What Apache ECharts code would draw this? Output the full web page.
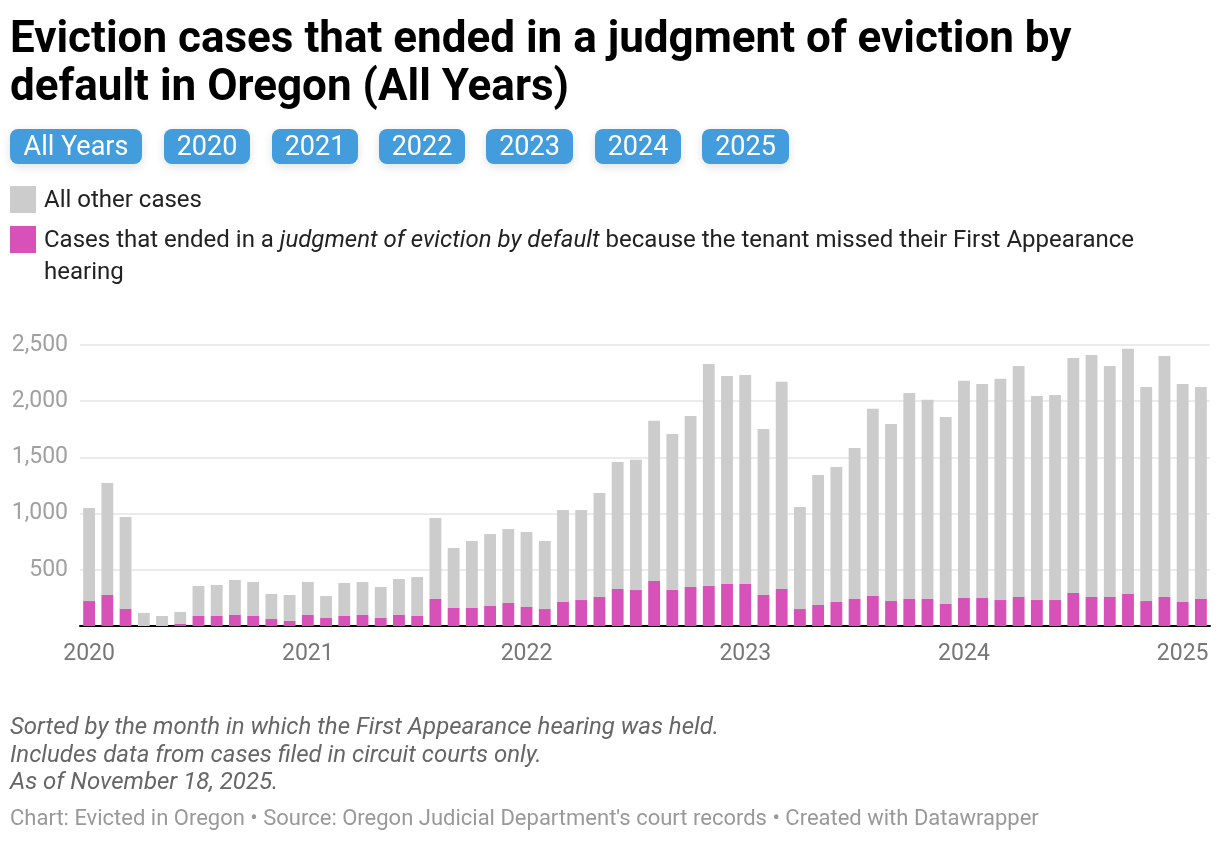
<!DOCTYPE html>
<html>
<head>
<meta charset="utf-8">
<script src="https://cdn.jsdelivr.net/npm/echarts@6/dist/echarts.min.js"></script>
<style>
html,body{margin:0;padding:0;background:#fff;}
#chart{width:1220px;height:844px;}
</style>
</head>
<body>
<div id="chart"></div>
<script>
// Months Jan 2020 – Feb 2025
const months = [
 '2020-01','2020-02','2020-03','2020-04','2020-05','2020-06','2020-07','2020-08','2020-09','2020-10','2020-11','2020-12',
 '2021-01','2021-02','2021-03','2021-04','2021-05','2021-06','2021-07','2021-08','2021-09','2021-10','2021-11','2021-12',
 '2022-01','2022-02','2022-03','2022-04','2022-05','2022-06','2022-07','2022-08','2022-09','2022-10','2022-11','2022-12',
 '2023-01','2023-02','2023-03','2023-04','2023-05','2023-06','2023-07','2023-08','2023-09','2023-10','2023-11','2023-12',
 '2024-01','2024-02','2024-03','2024-04','2024-05','2024-06','2024-07','2024-08','2024-09','2024-10','2024-11','2024-12',
 '2025-01','2025-02'
];
// Cases ending in judgment of eviction by default (missed First Appearance)
const defaultCases = [
 222,276,151,0,0,18,89,89,98,89,62,45,
 98,71,89,98,71,98,89,240,160,160,178,205,
 169,151,214,231,258,329,320,401,320,347,356,374,
 374,276,329,151,187,214,240,267,222,240,240,196,
 249,249,231,258,231,231,294,258,258,285,222,258,
 214,240
];
// All other cases
const otherCases = [
 828,997,819,116,89,107,267,276,311,303,223,231,
 294,196,294,294,276,320,347,721,534,597,641,658,
 668,606,819,802,926,1131,1158,1424,1389,1522,1976,1851,
 1860,1477,1843,908,1157,1201,1344,1665,1576,1834,1772,1664,
 1932,1905,1968,2056,1816,1825,2091,2154,2056,2181,1905,2145,
 1940,1887
];
const yTicks = [0,500,1000,1500,2000,2500];
const buttonLabels = ['All Years','2020','2021','2022','2023','2024','2025'];

const chart = echarts.init(document.getElementById('chart'));

const btnX = [10,164,272,379,486,595,702];
const btnW = [132,86,86,86,87,86,87];
const graphics = [];
buttonLabels.forEach((t,i)=>{
  graphics.push({
    type:'rect', left:btnX[i], top:129,
    shape:{width:btnW[i],height:35,r:8},
    style:{fill:'#439cdc',shadowBlur:10,shadowColor:'rgba(0,0,0,0.12)',shadowOffsetY:3}
  });
  graphics.push({
    type:'text', x:btnX[i]+btnW[i]/2, y:148,
    style:{text:t,fill:'#fff',font:'27px Roboto',align:'center',verticalAlign:'middle'}
  });
});
// legend
graphics.push({type:'rect',left:10,top:186,shape:{width:26,height:27},style:{fill:'#cccccc'}});
graphics.push({type:'text',x:44,y:201,style:{text:'All other cases',fill:'#222',font:'24px Roboto',verticalAlign:'middle'}});
graphics.push({type:'rect',left:10,top:226,shape:{width:26,height:27},style:{fill:'#d652b9'}});
graphics.push({type:'text',x:44,y:241,style:{
  text:'{n|Cases that ended in a }{i|judgment of eviction by default}{n| because the tenant missed their First Appearance}',
  verticalAlign:'middle',
  rich:{n:{font:'24px Roboto',fill:'#222'},i:{font:'italic 24px Roboto',fill:'#222'}}
}});
graphics.push({type:'text',x:44,y:273,style:{text:'hearing',fill:'#222',font:'24px Roboto',verticalAlign:'middle'}});
// notes
const notes = ['Sorted by the month in which the First Appearance hearing was held.',
 'Includes data from cases filed in circuit courts only.',
 'As of November 18, 2025.'];
notes.forEach((t,i)=>{
  graphics.push({type:'text',x:10,y:728+i*27.5,style:{text:t,fill:'#666',font:'italic 24px Roboto',verticalAlign:'middle'}});
});
graphics.push({type:'text',x:10,y:819,style:{text:"Chart: Evicted in Oregon • Source: Oregon Judicial Department's court records • Created with Datawrapper",fill:'#999',font:'22px Roboto',verticalAlign:'middle'}});

chart.setOption({
  animation:false,
  title:{
    text:'Eviction cases that ended in a judgment of eviction by\ndefault in Oregon (All Years)',
    left:5, top:12,
    textStyle:{fontFamily:'Roboto',fontWeight:'bold',fontSize:44,lineHeight:48,color:'#000'}
  },
  grid:{left:80,right:10,top:345,bottom:218,containLabel:false},
  xAxis:{
    type:'category', data:months,
    axisLine:{lineStyle:{color:'#000',width:2}},
    axisTick:{show:false},
    axisLabel:{
      interval:0,
      formatter:(v)=> v.endsWith('-01') ? v.slice(0,4) : '',
      color:'#777', fontFamily:'Roboto', fontSize:23, margin:17
    }
  },
  yAxis:{
    type:'value', min:yTicks[0], max:yTicks[yTicks.length-1], interval:500,
    axisLine:{show:false}, axisTick:{show:false},
    splitLine:{lineStyle:{color:'#e5e5e5',width:1.5}},
    axisLabel:{color:'#a0a0a0',fontFamily:'Roboto',fontSize:23,margin:12,
      formatter:(v)=> v===0 ? '' : v.toLocaleString('en-US')}
  },
  series:[
    {name:'Cases that ended in a judgment of eviction by default',type:'bar',stack:'t',data:defaultCases,
     itemStyle:{color:'#d652b9'},barCategoryGap:'35%'},
    {name:'All other cases',type:'bar',stack:'t',data:otherCases,
     itemStyle:{color:'#cccccc'},barCategoryGap:'35%'}
  ],
  graphic:graphics
});
</script>
</body>
</html>
